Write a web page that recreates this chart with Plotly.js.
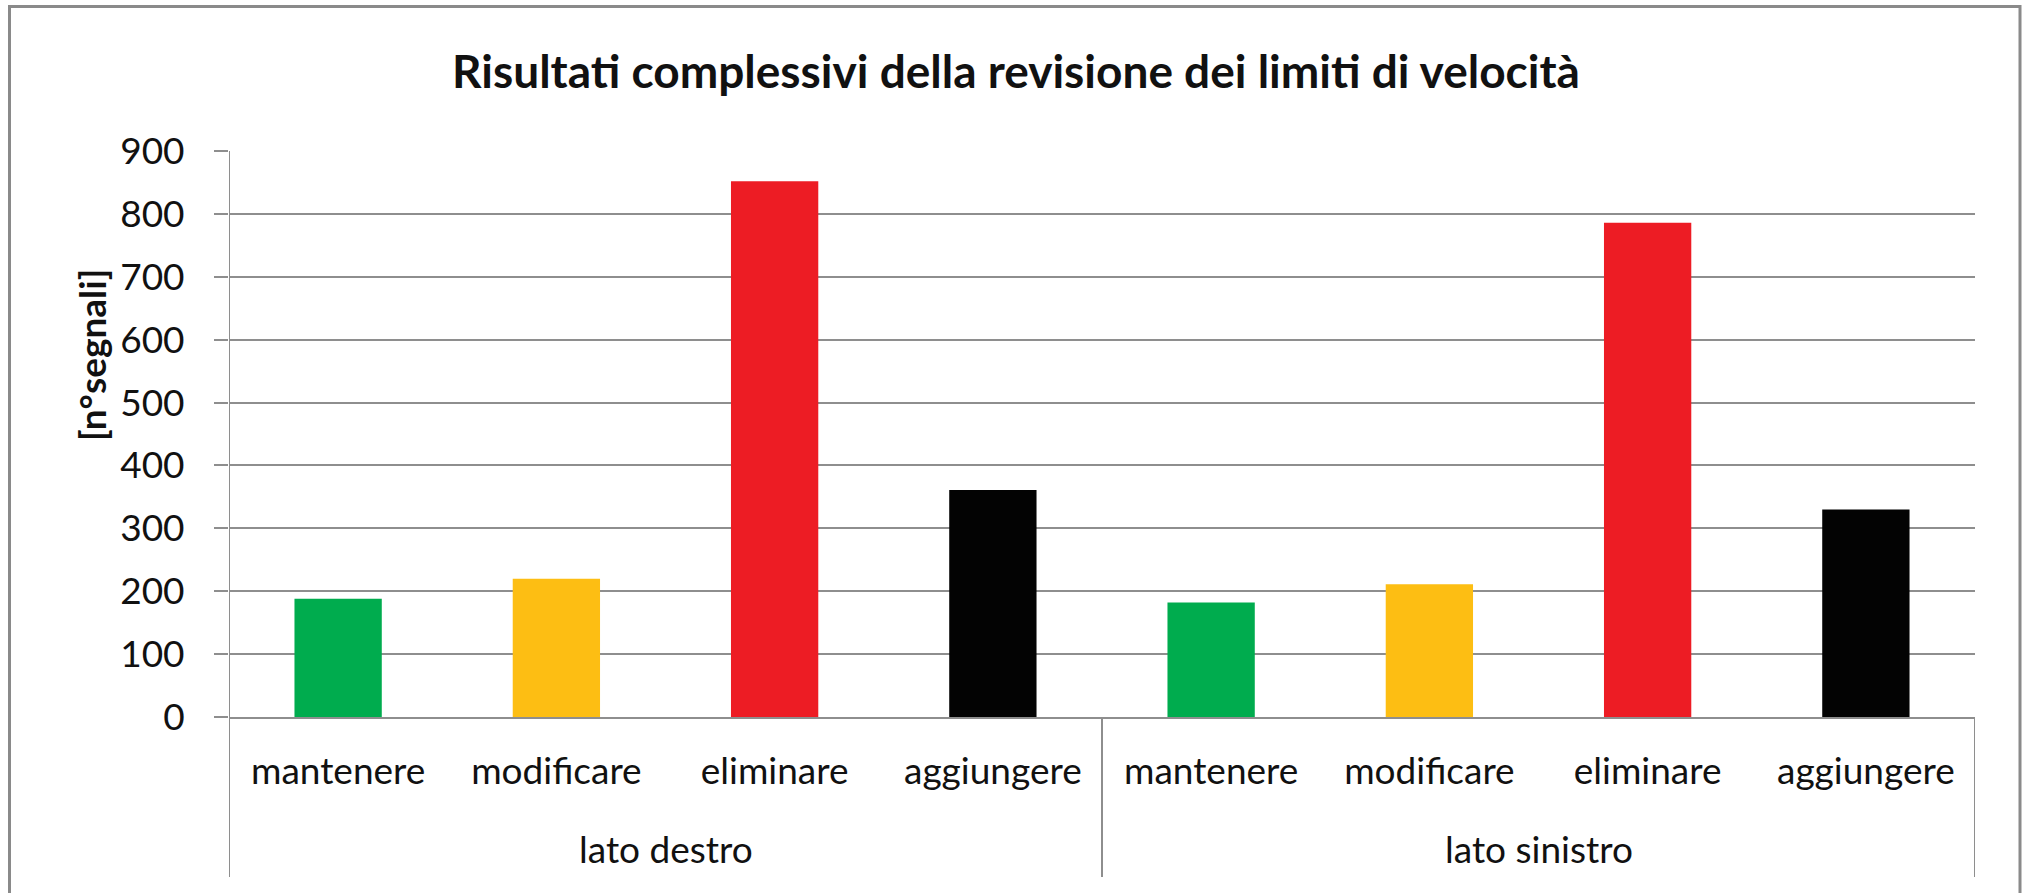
<!DOCTYPE html>
<html>
<head>
<meta charset="utf-8">
<script src="https://cdn.plot.ly/plotly-3.0.1.min.js"></script>
<style>
  html, body { margin: 0; padding: 0; background: #ffffff; }
  #chart { width: 2028px; height: 893px; }
</style>
</head>
<body>
<div id="chart"></div>
<script>
// ---- data ----
const chartTitle = 'Risultati complessivi della revisione dei limiti di velocità';
const yTitle = '[n°segnali]';
const groups = ['lato destro', 'lato sinistro'];
const categories = ['mantenere', 'modificare', 'eliminare', 'aggiungere'];
const latoDestro = [188, 220, 852, 361];
const latoSinistro = [182, 211, 786, 330];
const barColors = ['#00AC4E', '#FDBE13', '#ED1C24', '#030303'];
const yTicks = [0, 100, 200, 300, 400, 500, 600, 700, 800, 900];

// ---- build traces ----
const seriesByGroup = [latoDestro, latoSinistro];
const nCat = categories.length;
const traces = seriesByGroup.map((vals, g) => ({
  type: 'bar',
  x: categories.map((c, i) => g * nCat + i),
  y: vals,
  width: 0.4,
  marker: { color: barColors, line: { width: 0 } },
  showlegend: false,
  hoverinfo: 'skip'
}));

const allTickVals = [];
const allTickText = [];
groups.forEach((g, gi) => categories.forEach((c, i) => {
  allTickVals.push(gi * nCat + i);
  allTickText.push(c);
}));

const gridColor = '#8e8e8e';
const fontFam = 'Lato, "Open Sans", sans-serif';

// plot area in pixels: left 229, right 1975, top 151, bottom 717
const L = 229, R = 1975, T = 151, B = 717, W = 2028, H = 893;
const pw = R - L, ph = B - T;
const px = v => (v - L) / pw;
const py = v => (B - v) / ph;

const shapes = [];
// outer chart border
shapes.push({ type: 'rect', xref: 'paper', yref: 'paper',
  x0: px(9.5), x1: px(2020), y0: py(910), y1: py(6.5),
  line: { color: '#8a8a8a', width: 3 }, fillcolor: 'rgba(0,0,0,0)', layer: 'below' });
// group dividers (left axis extension, between groups, right end)
const dividerX = [];
for (let g = 0; g <= groups.length; g++) dividerX.push(g * nCat - 0.5);
dividerX.forEach((xv, k) => {
  shapes.push({ type: 'line', xref: 'x', yref: 'paper',
    x0: xv, x1: xv, y0: py(877), y1: k === 0 ? 1 : 0,
    line: { color: gridColor, width: 2 } });
});

const annotations = groups.map((g, gi) => ({
  text: g, xref: 'x', yref: 'paper',
  x: gi * nCat + (nCat - 1) / 2, y: py(848),
  xanchor: 'center', yanchor: 'middle', showarrow: false,
  font: { family: fontFam, size: 37, color: '#111' }
}));
annotations.push({
  text: '<b>' + yTitle + '</b>', xref: 'paper', yref: 'paper',
  x: px(91), y: py(355), textangle: -90,
  xanchor: 'center', yanchor: 'middle', showarrow: false,
  font: { family: fontFam, size: 37, color: '#111' }
});

const layout = {
  width: W, height: H,
  margin: { l: L, r: W - R, t: T, b: H - B, pad: 0 },
  paper_bgcolor: '#ffffff', plot_bgcolor: '#ffffff',
  barmode: 'overlay',
  title: {
    text: '<b>' + chartTitle + '</b>',
    xref: 'container', yref: 'container',
    x: 1016 / W, y: 1 - 72 / H, xanchor: 'center', yanchor: 'middle',
    font: { family: fontFam, size: 46, color: '#111' }
  },
  xaxis: {
    range: [-0.5, groups.length * nCat - 0.5],
    tickmode: 'array', tickvals: allTickVals, ticktext: allTickText,
    ticks: '', showgrid: false, zeroline: false,
    showline: true, linecolor: gridColor, linewidth: 2,
    ticklabelstandoff: 21,
    tickfont: { family: fontFam, size: 37, color: '#111' },
    fixedrange: true
  },
  yaxis: {
    range: [0, 900],
    tickmode: 'array', tickvals: yTicks,
    ticks: 'outside', ticklen: 14, tickwidth: 2, tickcolor: gridColor,
    ticklabelstandoff: 22,
    showgrid: true, gridcolor: gridColor, gridwidth: 2,
    zeroline: false, showline: false,
    tickfont: { family: fontFam, size: 37, color: '#111' },
    fixedrange: true
  },
  shapes: shapes,
  annotations: annotations
};

Plotly.newPlot('chart', traces, layout, { displayModeBar: false, staticPlot: true });
</script>
</body>
</html>
